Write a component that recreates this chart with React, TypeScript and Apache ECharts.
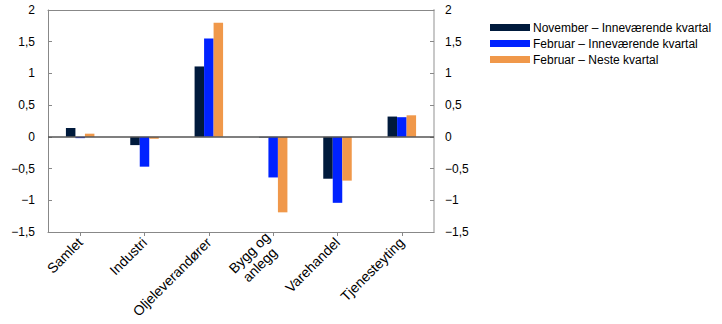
import React, { useEffect, useRef } from "react";
import * as echarts from "echarts";

const categories = ["Samlet", "Industri", "Oljeleverandører", "Bygg og\nanlegg", "Varehandel", "Tjenesteyting"];
const seriesNames = ["November – Inneværende kvartal", "Februar – Inneværende kvartal", "Februar – Neste kvartal"];
const novCurrent = [0.14, -0.13, 1.11, -0.01, -0.66, 0.32];
const febCurrent = [-0.02, -0.47, 1.55, -0.64, -1.04, 0.31];
const febNext = [0.05, -0.03, 1.8, -1.19, -0.69, 0.34];
const colors = ["#001a3c", "#0022ff", "#f0984a"];

const FONT = "'Liberation Sans', Arial, sans-serif";

const fmt = (v: number) => {
  const s = String(v).replace(".", ",");
  return s.startsWith("-") ? "−" + s.slice(1) : s;
};

const xFmt = (v: string) => {
  const lines = v.split("\n");
  if (lines.length === 1) return "{a|" + v + "}";
  return lines.map((l, i) => (i === 0 ? "{a|" + l + "}" : "{b|" + l + "}")).join("\n");
};

export default function App() {
  const ref = useRef<HTMLDivElement>(null);
  useEffect(() => {
    if (!ref.current) return;
    const chart = echarts.init(ref.current, null, { renderer: "svg" });
    const yCommon = {
      type: "value" as const,
      min: -1.5,
      max: 2,
      interval: 0.5,
      splitLine: { show: false },
      axisTick: { show: true, inside: true, length: 4, lineStyle: { color: "#888" } },
      axisLabel: { formatter: fmt, color: "#000", fontSize: 12, fontFamily: FONT },
    };
    const data = [novCurrent, febCurrent, febNext];
    const xText = { fontSize: 14, fontFamily: FONT, color: "#000", lineHeight: 16 };
    chart.setOption({
      animation: false,
      textStyle: { fontFamily: FONT },
      grid: { left: 48, right: 288, top: 10, bottom: 92, containLabel: false },
      legend: {
        orient: "vertical",
        left: 485,
        top: 16,
        itemWidth: 40,
        itemHeight: 7,
        itemGap: 3,
        icon: "rect",
        textStyle: { fontSize: 12, color: "#000", fontFamily: FONT, lineHeight: 13, padding: [0, 0, 0, -2] },
        data: seriesNames,
      },
      xAxis: [
        {
          type: "category",
          data: categories,
          position: "bottom",
          axisLine: { onZero: false, lineStyle: { color: "#888", width: 1 } },
          axisTick: { show: true, alignWithLabel: true, length: 4, lineStyle: { color: "#888" } },
          axisLabel: {
            rotate: 45,
            interval: 0,
            margin: 8,
            formatter: xFmt,
            rich: {
              a: { ...xText },
              b: { ...xText, padding: [0, 6, 0, 0] },
            },
          },
        },
        {
          type: "category",
          data: categories,
          position: "top",
          axisLine: { onZero: false, lineStyle: { color: "#888", width: 1 } },
          axisTick: { show: false },
          axisLabel: { show: false },
        },
      ],
      yAxis: [
        {
          ...yCommon,
          position: "left",
          axisLine: { show: true, lineStyle: { color: "#888", width: 1 } },
          axisLabel: { ...yCommon.axisLabel, margin: 13 },
        },
        {
          ...yCommon,
          position: "right",
          axisLine: { show: true, lineStyle: { color: "#c8c8c8", width: 2 } },
          axisLabel: { ...yCommon.axisLabel, margin: 11 },
        },
      ],
      series: seriesNames.map((name, i) => ({
        name,
        type: "bar",
        data: data[i],
        barWidth: 9.5,
        barGap: "0%",
        itemStyle: { color: colors[i] },
        ...(i === 0
          ? {
              markLine: {
                silent: true,
                symbol: "none",
                label: { show: false },
                lineStyle: { color: "#555", width: 1.5, type: "solid" },
                data: [{ yAxis: 0 }],
              },
            }
          : {}),
      })),
    });
    return () => chart.dispose();
  }, []);
  return (
    <div
      ref={ref}
      style={{ position: "fixed", left: 0, top: 0, width: 722, height: 324, background: "#fff" }}
    />
  );
}
